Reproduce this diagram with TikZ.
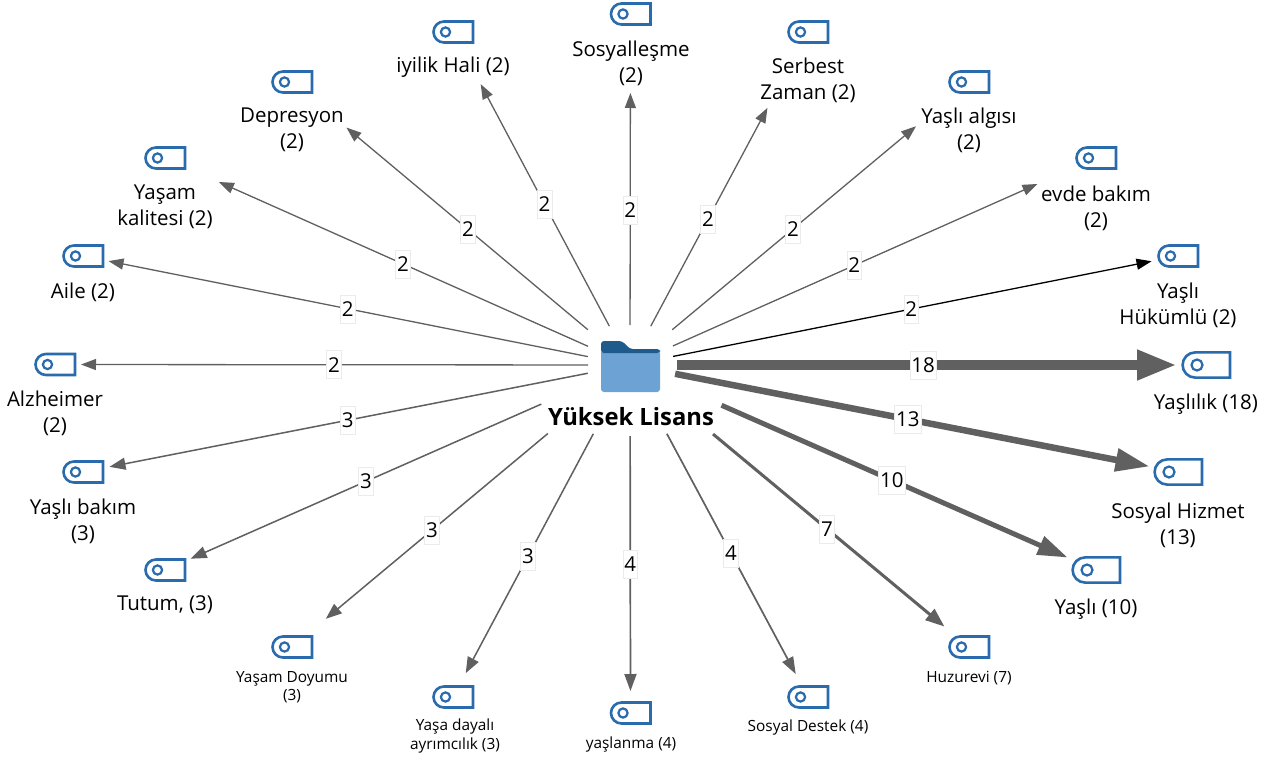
\documentclass[tikz,border=0pt]{standalone}
\usepackage{fontspec}
\setmainfont{Open Sans}
\usetikzlibrary{arrows.meta}
\definecolor{edgegray}{HTML}{606060}
\definecolor{tagblue}{HTML}{2A6BAE}
\definecolor{folderdark}{HTML}{1F5A8C}
\definecolor{folderlight}{HTML}{6CA3D4}
\definecolor{labelborder}{HTML}{EBEBEB}
\tikzset{
  tagbox/.style={inner sep=0pt,minimum width=41pt,minimum height=22pt},
  taglabel/.style={align=center,inner sep=0pt,font=\fontsize{20.5}{26}\selectfont},
  smalllabel/.style={align=center,inner sep=0pt,font=\fontsize{15.4}{18.5}\selectfont},
  hubtitle/.style={inner sep=0pt,font=\fontsize{23.8}{27}\selectfont\bfseries},
  edgelabel/.style={fill=white,draw=labelborder,line width=0.5pt,inner sep=1.5pt,minimum height=28pt,text=black,font=\fontsize{20.5}{22}\selectfont},
  wtwo/.style={draw=edgegray,line width=1.3pt,-{Triangle[length=15pt,width=11pt]},edgegray},
  wtwoblack/.style={draw=black,line width=1.3pt,-{Triangle[length=15pt,width=11pt]},black},
  wthree/.style={draw=edgegray,line width=1.5pt,-{Triangle[length=16pt,width=12pt]},edgegray},
  wfour/.style={draw=edgegray,line width=1.7pt,-{Triangle[length=17pt,width=12pt]},edgegray},
  wseven/.style={draw=edgegray,line width=3pt,-{Triangle[length=19pt,width=14pt]},edgegray},
  wten/.style={draw=edgegray,line width=5pt,-{Triangle[length=30pt,width=19pt]},edgegray},
  wthirteen/.style={draw=edgegray,line width=6.5pt,-{Triangle[length=34pt,width=22pt]},edgegray},
  weighteen/.style={draw=edgegray,line width=10pt,-{Triangle[length=40pt,width=28pt]},edgegray}
}
% name, x, y, scale
\newcommand\tagicon[4]{%
  \node[tagbox,scale=#4] (#1) at (#2,#3) {};
  \begin{scope}[shift={(#1.center)},scale=#4]
    \draw[tagblue,line width=2.6pt,line join=miter] (20,-10.5) -- (-9,-10.5) arc[start angle=90,end angle=270,x radius=10.5,y radius=-10.5] -- (20,10.5) -- cycle;
    \draw[tagblue,line width=2.2pt] (-7.5,0) circle[radius=4.6];
  \end{scope}
}
% tag, style, start, end, pos, text
\newcommand\linkedge[6]{%
  \draw[#2,shorten <=#3pt,shorten >=#4pt] (hub.center) -- node[edgelabel,pos=#5] (lab#1) {#6} (#1.center);
}
\begin{document}
\begin{tikzpicture}[x=1pt,y=-1pt]
\useasboundingbox (0,0) rectangle (1267,760);
\fill[white] (0,0) rectangle (1267,760);

\node[inner sep=0pt,minimum width=60pt,minimum height=52pt] (hub) at (630,365) {};
\fill[folderlight,rounded corners=3pt] (601,350) rectangle (660,392);
\fill[folderdark,rounded corners=3pt] (601,353) -- (601,341) -- (622,341) -- (630,349) -- (660,349) -- (660,353) -- cycle;
\node[hubtitle] (hubname) at (631,416.5) {Yüksek Lisans};

\tagicon{sosyal}{630.5}{14}{1}
\tagicon{iyilik}{453}{32}{1}
\tagicon{serbest}{808}{32}{1}
\tagicon{algisi}{969}{82}{1}
\tagicon{evde}{1096}{158}{1}
\tagicon{hukumlu}{1178}{256}{1}
\tagicon{yaslilik}{1206}{365}{1.2}
\tagicon{hizmet}{1178}{472}{1.2}
\tagicon{yasli}{1096}{570}{1.2}
\tagicon{huzur}{969}{647}{1}
\tagicon{destek}{808}{697}{1}
\tagicon{yaslanma}{630.5}{713}{1}
\tagicon{ayrim}{453}{697}{1}
\tagicon{doyum}{292}{647}{1}
\tagicon{tutum}{165}{570}{1}
\tagicon{bakim}{83}{472}{1}
\tagicon{alz}{55}{364.5}{1}
\tagicon{aile}{83}{256}{1}
\tagicon{kalite}{165}{158}{1}
\tagicon{depres}{292}{82}{1}

\linkedge{sosyal}{wtwo}{40}{79}{.442}{2}
\linkedge{iyilik}{wtwo}{44}{59}{.483}{2}
\linkedge{serbest}{wtwo}{44}{86}{.438}{2}
\linkedge{algisi}{wtwo}{55}{69}{.481}{2}
\linkedge{evde}{wtwo}{47}{64}{.481}{2}
\linkedge{hukumlu}{wtwoblack}{44}{27}{.513}{2}
\linkedge{yaslilik}{weighteen}{47}{29}{.509}{18}
\linkedge{hizmet}{wthirteen}{46}{29}{.507}{13}
\linkedge{yasli}{wten}{100}{31}{.562}{10}
\linkedge{huzur}{wseven}{108}{32}{.581}{7}
\linkedge{destek}{wfour}{78}{26}{.567}{4}
\linkedge{yaslanma}{wfour}{71}{22}{.572}{4}
\linkedge{ayrim}{wthree}{78}{27}{.576}{3}
\linkedge{doyum}{wthree}{107}{44}{.586}{3}
\linkedge{tutum}{wthree}{97}{28}{.568}{3}
\linkedge{bakim}{wthree}{43}{27}{.516}{3}
\linkedge{alz}{wtwo}{42}{26}{.515}{2}
\linkedge{aile}{wtwo}{43}{26}{.516}{2}
\linkedge{kalite}{wtwo}{46}{59}{.488}{2}
\linkedge{depres}{wtwo}{55}{71}{.479}{2}

\node[taglabel] (tsosyal) at (631,63) {Sosyalleşme\\(2)};
\node[taglabel] (tiyilik) at (453,67) {iyilik Hali (2)};
\node[taglabel] (tserbest) at (808,80) {Serbest\\Zaman (2)};
\node[taglabel] (talgisi) at (969,130) {Yaşlı algısı\\(2)};
\node[taglabel] (tevde) at (1096,208) {evde bakım\\(2)};
\node[taglabel] (thukumlu) at (1178,305) {Yaşlı\\Hükümlü (2)};
\node[taglabel] (tyaslilik) at (1206,404) {Yaşlılık (18)};
\node[taglabel] (thizmet) at (1178,525) {Sosyal Hizmet\\(13)};
\node[taglabel] (tyasli) at (1096,609.5) {Yaşlı (10)};
\node[smalllabel] (thuzur) at (969,678) {Huzurevi (7)};
\node[smalllabel] (tdestek) at (808,727) {Sosyal Destek (4)};
\node[smalllabel] (tyaslanma) at (631,744) {yaşlanma (4)};
\node[smalllabel] (tayrim) at (455,736) {Yaşa dayalı\\ayrımcılık (3)};
\node[smalllabel] (tdoyum) at (292,687) {Yaşam Doyumu\\(3)};
\node[taglabel] (ttutum) at (165,605) {Tutum, (3)};
\node[taglabel] (tbakim) at (83,521) {Yaşlı bakım\\(3)};
\node[taglabel] (talz) at (55,413) {Alzheimer\\(2)};
\node[taglabel] (taile) at (83,292) {Aile (2)};
\node[taglabel] (tkalite) at (165,207) {Yaşam\\kalitesi (2)};
\node[taglabel] (tdepres) at (292,130) {Depresyon\\(2)};
\end{tikzpicture}
\end{document}
